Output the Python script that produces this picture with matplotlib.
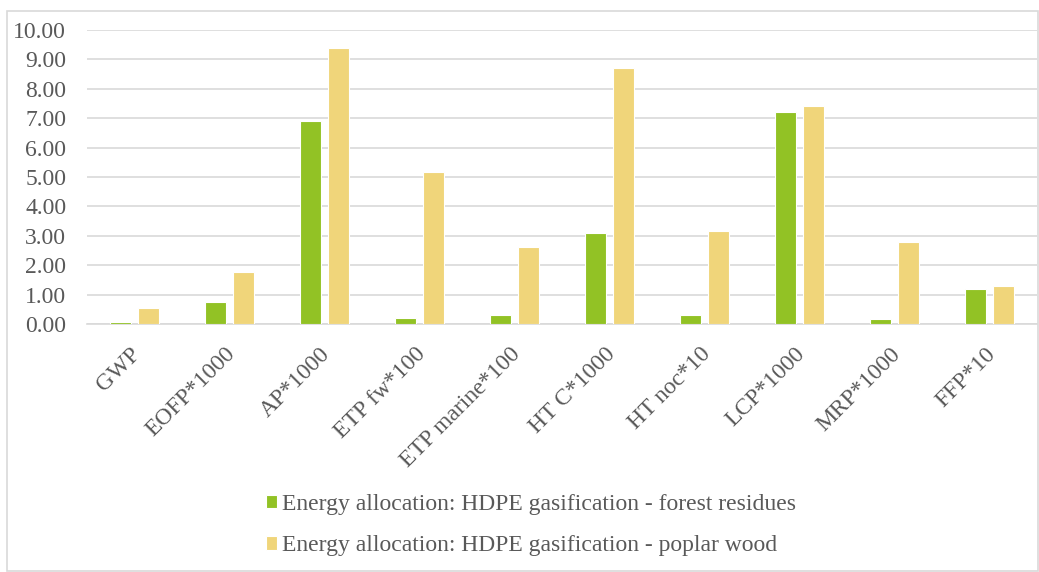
import matplotlib
matplotlib.use("Agg")
import matplotlib.pyplot as plt
import numpy as np
from matplotlib.patches import Rectangle
from matplotlib.transforms import ScaledTranslation

categories = ["GWP", "EOFP*1000", "AP*1000", "ETP fw*100", "ETP marine*100",
              "HT C*1000", "HT noc*10", "LCP*1000", "MRP*1000", "FFP*10"]
forest_residues = [0.08, 0.75, 6.90, 0.20, 0.32, 3.10, 0.32, 7.22, 0.18, 1.20]
poplar_wood = [0.54, 1.77, 9.38, 5.18, 2.62, 8.70, 3.18, 7.42, 2.78, 1.30]
series_names = ["Energy allocation: HDPE gasification - forest residues",
                "Energy allocation: HDPE gasification - poplar wood"]
yticks = np.arange(0, 10.01, 1.0)

plt.rcParams['font.family'] = ['Liberation Serif', 'DejaVu Serif']
W, H = 1039, 572
fig = plt.figure(figsize=(W / 100, H / 100), dpi=100)
ax = fig.add_axes([87 / W, 1 - 324 / H, (1037 - 87) / W, (324 - 30) / H])

x = np.arange(len(categories))
bw = 0.22
off = 0.145
ax.bar(x - off, forest_residues, bw, color="#92c225", edgecolor="white", linewidth=0.8,
       label=series_names[0], zorder=3)
ax.bar(x + off, poplar_wood, bw, color="#f0d57a", edgecolor="white", linewidth=0.8,
       label=series_names[1], zorder=3)

ax.set_xlim(-0.5, len(categories) - 0.5)
ax.set_ylim(0, 10)
ax.set_yticks(yticks)
ax.set_yticklabels([f"{v:.2f}" for v in yticks])
ax.yaxis.grid(True, color="#d9d9d9", linewidth=1.2, zorder=0)
ax.set_axisbelow(True)
for s in ["top", "right", "left"]:
    ax.spines[s].set_visible(False)
ax.spines["bottom"].set_color("#d9d9d9")
ax.spines["bottom"].set_linewidth(1.2)
ax.tick_params(axis="both", length=0, labelsize=17, colors="#595959")
ax.tick_params(axis="y", pad=15)
ax.set_xticks(x)
ax.set_xticklabels(categories, rotation=45, ha="right", va="top", rotation_mode="anchor")
ax.tick_params(axis="x", pad=14)
shift = ScaledTranslation(-0.05, 0, fig.dpi_scale_trans)
for lbl in ax.get_xticklabels():
    lbl.set_transform(lbl.get_transform() + shift)

leg = fig.legend(loc="upper center", bbox_to_anchor=(531 / W, 1 - 473 / H), ncol=1,
                 frameon=False, fontsize=17, handlelength=0.48, handleheight=0.48,
                 handletextpad=0.22, labelspacing=0.85)
for t in leg.get_texts():
    t.set_color("#595959")

fig.patches.append(Rectangle((7 / W, 1 - 571 / H), (1038 - 7) / W, (571 - 11) / H,
                             transform=fig.transFigure, fill=False,
                             edgecolor="#d9d9d9", linewidth=1.2))
fig.savefig("out.png", dpi=100)
